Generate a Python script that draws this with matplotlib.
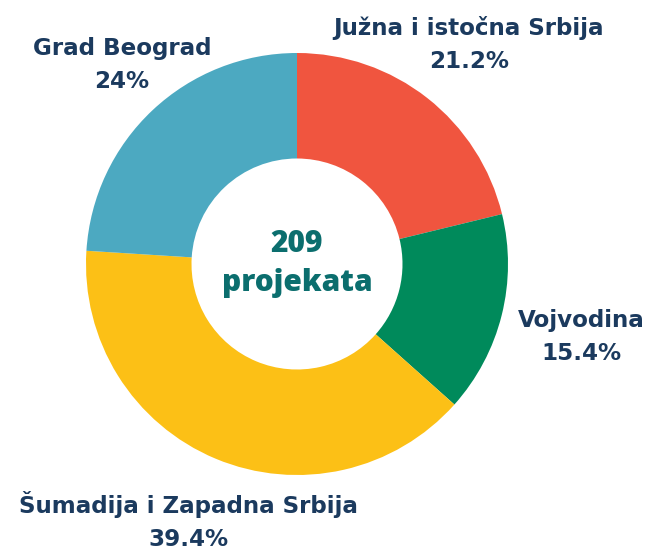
import matplotlib.pyplot as plt

# data
regions = ['Južna i istočna Srbija', 'Vojvodina', 'Šumadija i Zapadna Srbija', 'Grad Beograd']
shares = [21.2, 15.4, 39.4, 24.0]
share_labels = ['21.2%', '15.4%', '39.4%', '24%']
colors = ['#F0553F', '#008A5B', '#FCC016', '#4CA9C1']
total_projects = 209

W, H = 649, 553
fig = plt.figure(figsize=(W / 100, H / 100), dpi=100)
ax = fig.add_axes([0, 0, 1, 1])

cx, cy, r = 297, H - 264, 211
ax.pie(shares, colors=colors, startangle=90, counterclock=False,
       radius=r, center=(cx, cy),
       wedgeprops=dict(width=r * 0.5, linewidth=0))
ax.set_xlim(0, W)
ax.set_ylim(0, H)
ax.set_aspect('equal')
ax.axis('off')

navy = '#1B3A5E'
# label positions in pixels (top-left origin)
label_pos = [(469, 28), (581, 320), (188, 505), (122, 48)]
for name, pct, (x, y) in zip(regions, share_labels, label_pos):
    ax.text(x, H - y, name, ha='center', va='center', fontsize=16.6,
            fontweight='bold', color=navy, family='DejaVu Sans')
    ax.text(x, H - y - 34, pct, ha='center', va='center', fontsize=16.6,
            fontweight='bold', color=navy, family='DejaVu Sans')

teal = '#0B6E6E'
ax.text(cx, H - 244, str(total_projects), ha='center', va='center',
        fontsize=21.5, fontweight='heavy', color=teal, family='Open Sans')
ax.text(cx, H - 283, 'projekata', ha='center', va='center',
        fontsize=21.5, fontweight='heavy', color=teal, family='Open Sans')

fig.savefig('out.png', dpi=100)
